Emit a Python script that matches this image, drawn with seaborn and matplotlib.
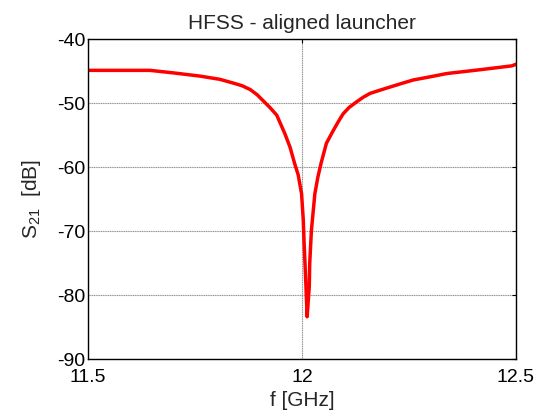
import numpy as np
import pandas as pd
import matplotlib
matplotlib.use("Agg")
import matplotlib.pyplot as plt
import seaborn as sns

# Transmission of the aligned launcher around the 12 GHz notch
freq_ghz = [11.500, 11.645, 11.700, 11.762, 11.808, 11.840, 11.860, 11.879, 11.895,
            11.910, 11.925, 11.941, 11.960, 11.972, 11.983, 11.991, 11.999, 12.003,
            12.005, 12.009, 12.012, 12.017, 12.018, 12.022, 12.030, 12.037, 12.045,
            12.057, 12.073, 12.085, 12.096, 12.110, 12.128, 12.143, 12.159, 12.182,
            12.206, 12.235, 12.260, 12.300, 12.338, 12.416, 12.490, 12.500]
s21_db = [-44.9, -44.9, -45.3, -45.8, -46.3, -46.9, -47.3, -47.9, -48.7,
          -49.7, -50.7, -51.9, -54.8, -56.9, -59.5, -61.2, -64.2, -68.3,
          -72.0, -78.2, -83.4, -78.7, -75.1, -69.9, -64.2, -61.6, -59.3,
          -56.3, -54.3, -52.9, -51.7, -50.7, -49.8, -49.1, -48.5, -48.0,
          -47.5, -46.9, -46.4, -45.9, -45.4, -44.8, -44.2, -43.95]

x_ticks = [11.5, 12, 12.5]
x_tick_labels = ["11.5", "12", "12.5"]
y_ticks = [-90, -80, -70, -60, -50, -40]

sns.set_style("white")
plt.rcParams["font.family"] = ["Liberation Sans", "DejaVu Sans"]
plt.rcParams["mathtext.fontset"] = "custom"
plt.rcParams["mathtext.rm"] = "Liberation Sans"
plt.rcParams["mathtext.it"] = "Liberation Sans"
plt.rcParams["axes.unicode_minus"] = False

df = pd.DataFrame({"f": freq_ghz, "s21": s21_db})

fig = plt.figure(figsize=(5.41, 4.20), dpi=100)
ax = fig.add_axes([88 / 541, 1 - 359 / 420, (516 - 88) / 541, (359 - 39) / 420])

sns.lineplot(data=df, x="f", y="s21", ax=ax, color="#ff0000", linewidth=2.5,
             sort=False, estimator=None)

ax.set_xlim(11.5, 12.5)
ax.set_ylim(-90, -40)
ax.set_xticks(x_ticks)
ax.set_xticklabels(x_tick_labels)
ax.set_yticks(y_ticks)

ax.grid(True, color="#8c8c8c", linewidth=0.8, linestyle=(0, (1, 0.6)))
ax.set_axisbelow(True)

for side in ["left", "right", "top", "bottom"]:
    ax.spines[side].set_visible(True)
    ax.spines[side].set_color("black")
    ax.spines[side].set_linewidth(1.0)

ax.tick_params(direction="in", length=3, width=0.8, top=True, right=True,
               labelsize=14, colors="black")
ax.tick_params(axis="x", pad=7)
ax.tick_params(axis="y", pad=2)

ax.set_title("HFSS - aligned launcher", fontsize=15, pad=7)
ax.set_xlabel("f [GHz]", fontsize=15, labelpad=4)
ax.set_ylabel(r"S$_{21}$  [dB]", fontsize=15, labelpad=10)

fig.savefig("out.png", dpi=100)
